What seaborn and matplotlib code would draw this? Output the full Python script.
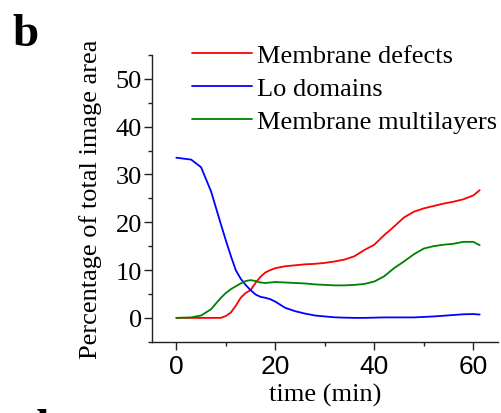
import matplotlib
matplotlib.use("Agg")
import matplotlib.pyplot as plt
import seaborn as sns
import pandas as pd
from matplotlib.ticker import MultipleLocator

sns.set_theme(style="ticks")
plt.rcParams["font.family"] = ["Liberation Serif", "DejaVu Serif"]
plt.rcParams["text.color"] = "black"
plt.rcParams["axes.labelcolor"] = "black"
plt.rcParams["xtick.color"] = "black"
plt.rcParams["ytick.color"] = "black"

time_min = [0, 3, 5, 7, 9, 10, 11, 12, 13, 14, 15, 16, 17, 18, 19, 20, 22, 24, 26,
            28, 30, 32, 34, 36, 38, 40, 42, 44, 46, 48, 50, 52, 54, 56, 58, 60, 61.3]
membrane_defects = [0, 0, 0, 0, 0, 0.4, 1.1, 2.5, 4.2, 5.2, 5.8, 7.3, 8.6, 9.5, 10.0,
                    10.4, 10.8, 11.0, 11.2, 11.3, 11.5, 11.8, 12.2, 12.9, 14.2, 15.3,
                    17.3, 19.1, 21.0, 22.2, 22.9, 23.4, 23.9, 24.3, 24.8, 25.6, 26.7]
lo_domains = [33.5, 33.1, 31.5, 26.5, 19.6, 16.2, 13.0, 10.0, 8.2, 6.9, 5.8, 4.9, 4.4,
              4.2, 3.9, 3.4, 2.1, 1.4, 0.9, 0.5, 0.3, 0.12, 0.05, 0, 0, 0.05, 0.1, 0.1,
              0.1, 0.1, 0.2, 0.3, 0.45, 0.6, 0.75, 0.8, 0.7]
membrane_multilayers = [0, 0.1, 0.5, 1.8, 4.2, 5.2, 6.0, 6.6, 7.2, 7.7, 7.9, 7.7, 7.4,
                        7.3, 7.4, 7.5, 7.4, 7.3, 7.2, 7.0, 6.9, 6.8, 6.8, 6.9, 7.1, 7.6,
                        8.7, 10.4, 11.8, 13.3, 14.5, 15.0, 15.3, 15.5, 15.9, 15.9, 15.2]

series_names = ["Membrane defects", "Lo domains", "Membrane multilayers"]
series_colors = ["#ff0000", "#0000ff", "#008000"]

frames = []
for name, vals in zip(series_names, [membrane_defects, lo_domains, membrane_multilayers]):
    frames.append(pd.DataFrame({"time": time_min, "value": vals, "series": name}))
df = pd.concat(frames, ignore_index=True)

fig = plt.figure(figsize=(5.02, 4.14), dpi=100)
ax = fig.add_axes([0.302, 0.172, 0.690, 0.693])

sns.lineplot(data=df, x="time", y="value", hue="series", hue_order=series_names,
             palette=series_colors, linewidth=1.3, ax=ax, legend=True)

ax.set_xlim(-5, 65)
ax.set_ylim(-5, 55)
ax.xaxis.set_major_locator(MultipleLocator(20))
ax.xaxis.set_minor_locator(MultipleLocator(10))
ax.yaxis.set_major_locator(MultipleLocator(10))
ax.yaxis.set_minor_locator(MultipleLocator(5))
for side in ("top", "right"):
    ax.spines[side].set_visible(False)
for side in ("left", "bottom"):
    ax.spines[side].set_color("#222222")
    ax.spines[side].set_linewidth(1.0)
ax.tick_params(which="major", direction="out", length=6, width=1.0, color="#222222",
               pad=1)
ax.tick_params(which="minor", direction="out", length=3, width=1.0, color="#222222")
ax.tick_params(axis="y", labelsize=19)
ax.tick_params(axis="x", labelsize=19, pad=3)
for lab in ax.get_xticklabels():
    lab.set_family(["Liberation Sans", "DejaVu Sans"])

ax.set_xlabel("time (min)", fontsize=19, labelpad=3)
ax.set_ylabel("Percentage of total image area", fontsize=19, labelpad=10)

# legend placed in the empty upper part of the axes, no frame
leg = ax.legend(loc="upper left", bbox_to_anchor=(0.116, 1.04), frameon=False,
                fontsize=19, handlelength=2.3, handletextpad=0.19, labelspacing=0.36,
                borderaxespad=0, borderpad=0)
for txt in leg.get_texts():
    txt.set_color("black")

fig.text(0.024, 0.89, "b", fontsize=34, fontweight="bold", ha="left", va="baseline")
fig.text(0.045, -0.066, "d", fontsize=34, fontweight="bold", ha="left", va="baseline")

fig.savefig("out.png", dpi=100)
